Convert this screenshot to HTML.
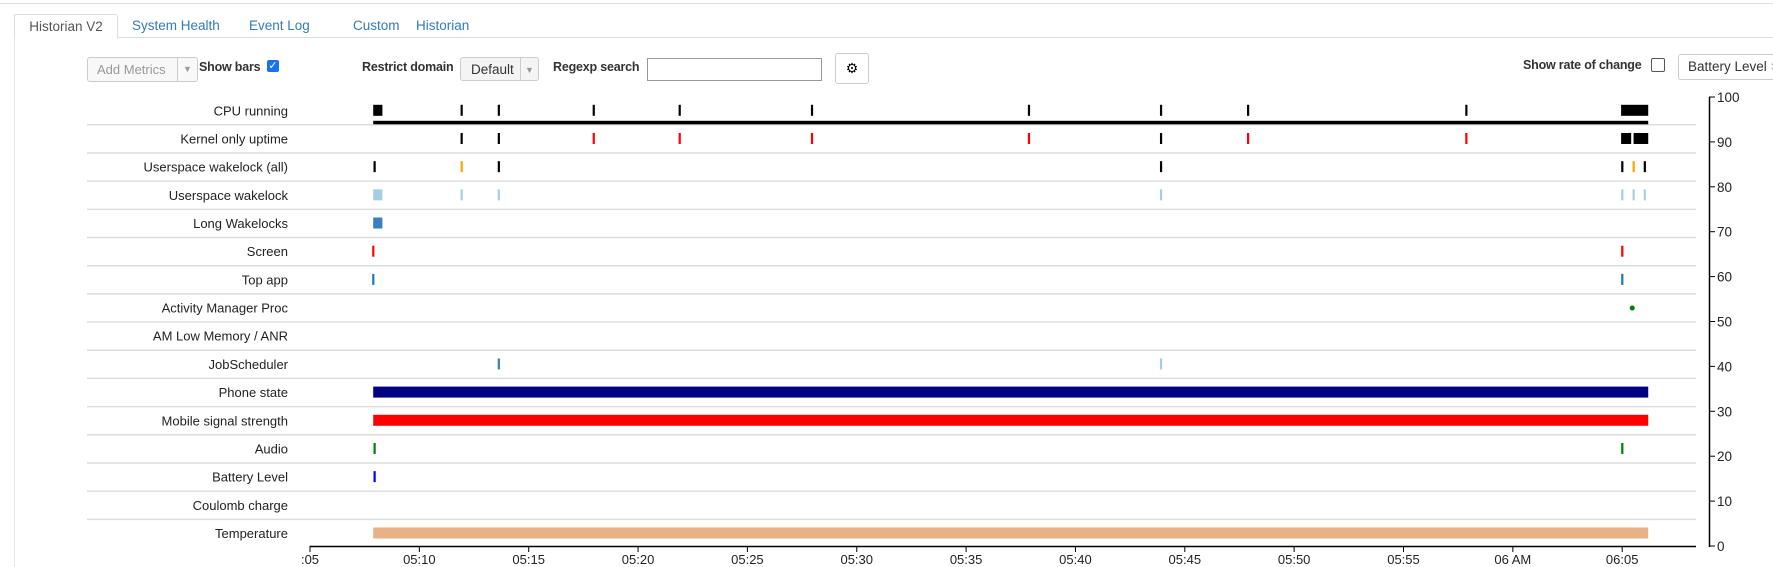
<!DOCTYPE html>
<html><head><meta charset="utf-8"><style>
body{margin:0;width:1773px;height:567px;overflow:hidden;background:#fff;font-family:"Liberation Sans",sans-serif;position:relative}
.abs{position:absolute}
.tab{position:absolute;top:14px;height:23px;line-height:23px;font-size:13.5px;color:#337ab7}
.lbl{position:absolute;font-size:12.5px;font-weight:bold;color:#333;letter-spacing:-0.2px}
</style></head><body>
<div class="abs" style="left:0;top:0;width:1773px;height:3px;border-bottom:1px solid #ddd"></div>
<div class="abs" style="left:14px;top:37px;width:1759px;height:1px;background:#ddd"></div>
<div class="abs" style="left:14px;top:14px;width:1px;height:553px;background:#e4e4e4"></div>
<div class="tab" style="left:14px;width:102px;color:#555;background:#fff;border:1px solid #ddd;border-bottom:1px solid #fff;border-radius:3px 3px 0 0;text-align:center">Historian V2</div>
<div class="tab" style="left:132px">System Health</div>
<div class="tab" style="left:249px">Event Log</div>
<div class="tab" style="left:353px">Custom</div>
<div class="tab" style="left:416px">Historian</div>

<div class="abs" style="left:87px;top:57px;width:100px;height:23px;border:1px solid #ccc;border-radius:3px;background:#f8f8f8;font-size:13px;color:#999;line-height:23px;padding-left:9px;box-sizing:content-box">Add Metrics<span style="position:absolute;right:0;top:0;width:19px;height:23px;border-left:1px solid #ccc;text-align:center;font-size:9px">▼</span></div>
<div class="lbl" style="left:199px;top:60px">Show bars</div>
<div class="abs" style="left:267px;top:60px;width:12px;height:12px;background:#1a73e8;border-radius:2px;color:#fff;font-size:11px;line-height:12px;text-align:center">✓</div>
<div class="lbl" style="left:362px;top:60px">Restrict domain</div>
<div class="abs" style="left:460px;top:57px;width:79px;height:24px;border:1px solid #ccc;border-radius:3px;background:#f4f4f4;font-size:13.5px;color:#333;line-height:24px;padding-left:10px;box-sizing:border-box">Default<span style="position:absolute;right:0;top:0;width:17px;height:22px;border-left:1px solid #ccc;text-align:center;font-size:9px;color:#999">▼</span></div>
<div class="lbl" style="left:553px;top:60px">Regexp search</div>
<div class="abs" style="left:647px;top:58px;width:175px;height:23px;border:1px solid #999;box-sizing:border-box"></div>
<div class="abs" style="left:835px;top:53px;width:34px;height:31px;border:1px solid #ccc;border-radius:3px;box-sizing:border-box;text-align:center;line-height:29px;font-size:14px">⚙</div>
<div class="lbl" style="left:1523px;top:58px">Show rate of change</div>
<div class="abs" style="left:1651px;top:58px;width:12px;height:12px;border:1px solid #555;border-radius:2px"></div>
<div class="abs" style="left:1678px;top:54px;width:110px;height:26px;border:1px solid #ccc;border-radius:3px;box-sizing:border-box;font-size:13.5px;color:#333;line-height:24px;padding-left:9px">Battery Level <span style="color:#999">×</span></div>

<svg id="chart" class="abs" style="left:0;top:0" width="1773" height="567"></svg>
<script>
const rowLabels=["CPU running","Kernel only uptime","Userspace wakelock (all)","Userspace wakelock","Long Wakelocks","Screen","Top app","Activity Manager Proc","AM Low Memory / ANR","JobScheduler","Phone state","Mobile signal strength","Audio","Battery Level","Coulomb charge","Temperature"];
// events: [row, startMin, endMin(null=tick), color]
const cpuEvents=[[0,2.89,3.31,"#000"],[0,6.93,null,"#000"],[0,8.63,null,"#000"],[0,12.97,null,"#000"],[0,16.90,null,"#000"],[0,22.95,null,"#000"],[0,32.87,null,"#000"],[0,38.91,null,"#000"],[0,42.89,null,"#000"],[0,52.87,null,"#000"],[0,59.95,61.19,"#000"]];
const kernelEvents=[[1,6.93,null,"#000"],[1,8.63,null,"#000"],[1,12.97,null,"red"],[1,16.90,null,"red"],[1,22.95,null,"red"],[1,32.87,null,"red"],[1,38.91,null,"#000"],[1,42.89,null,"red"],[1,52.87,null,"red"],[1,59.95,60.41,"#000"],[1,60.52,61.19,"#000"]];
const wakeAllEvents=[[2,2.95,null,"#000"],[2,6.93,null,"orange"],[2,8.63,null,"#000"],[2,38.91,null,"#000"],[2,60.0,null,"#000"],[2,60.52,null,"orange"],[2,61.03,null,"#000"]];
const wakeEvents=[[3,2.89,3.31,"#a6cee3"],[3,6.93,null,"#a6cee3"],[3,8.63,null,"#a6cee3"],[3,38.91,null,"#a6cee3"],[3,60.0,null,"#a6cee3"],[3,60.52,null,"#a6cee3"],[3,61.03,null,"#a6cee3"]];
const otherEvents=[[4,2.89,3.31,"#3b7fbf"],[5,2.89,null,"red"],[5,60.0,null,"red"],[6,2.89,null,"#1f78b4"],[6,60.0,null,"#1f78b4"],[9,8.63,null,"#3b7fbf"],[9,38.91,null,"#a6cee3"],[10,2.89,61.19,"#000080"],[11,2.89,61.19,"red"],[12,2.95,null,"green"],[12,60.0,null,"green"],[13,2.95,null,"blue"],[15,2.89,61.19,"#e8b285"]];
const dots=[[7,60.46,"green"]];
const cpuLine=[2.89,61.19];
const xTicks=["05:05","05:10","05:15","05:20","05:25","05:30","05:35","05:40","05:45","05:50","05:55","06 AM","06:05"];
const yTicks=[0,10,20,30,40,50,60,70,80,90,100];
const x=m=>310+m*21.87;
const yv=v=>546-v*4.49;
const cyOf=i=>110.8+i*28.18;
const svg=document.getElementById('chart');
const NS="http://www.w3.org/2000/svg";
function mk(t,a){const e=document.createElementNS(NS,t);for(const k in a)e.setAttribute(k,a[k]);svg.appendChild(e);return e;}
rowLabels.forEach((l,i)=>{
 const cy=cyOf(i);
 const t=mk('text',{x:288,y:cy+4.5,'text-anchor':'end','font-size':'13','fill':'#222'});
 t.textContent=l;
 
 
 if(i<15){const ln=mk('line',{x1:87,x2:1696,y1:cy+14,y2:cy+14,stroke:'#ddd','stroke-width':1.5});
 
 }
});
const cl=mk('rect',{x:x(cpuLine[0]),y:cyOf(0)+10,width:x(cpuLine[1])-x(cpuLine[0]),height:3.5,fill:'#000'});


[...cpuEvents,...kernelEvents,...wakeAllEvents,...wakeEvents,...otherEvents].forEach(ev=>{
 const [r,s,e,c]=ev;const cy=cyOf(r);
 const w=e===null?2.2:x(e)-x(s);
 const r2=mk('rect',{x:x(s)-(e===null?1:0),y:cy-6,width:w,height:11,fill:c});
 
 
});
dots.forEach(d=>{const c=mk('circle',{cx:x(d[1]),cy:cyOf(d[0]),r:2.5,fill:d[2]});
 
 });
const xa=mk('line',{x1:310,x2:1696,y1:546.5,y2:546.5,stroke:'#000','stroke-width':1.5});


xTicks.forEach((l,i)=>{const px=x(i*5);
 const tk=mk('line',{x1:px,x2:px,y1:546,y2:552,stroke:'#000'});
 
 
 const t=mk('text',{x:px,y:564,'text-anchor':'middle','font-size':'13','fill':'#222'});
 t.textContent=i===0?":05":l;
 
 });
const ya=mk('line',{x1:1709.5,x2:1709.5,y1:97,y2:547,stroke:'#000','stroke-width':1.5});


yTicks.forEach(v=>{const py=yv(v);
 const tk=mk('line',{x1:1709,x2:1715,y1:py,y2:py,stroke:'#000'});
 
 
 const t=mk('text',{x:1717,y:py+5,'font-size':'13.5','fill':'#222'});
 t.textContent=v;
 
 });
</script>
</body></html>
